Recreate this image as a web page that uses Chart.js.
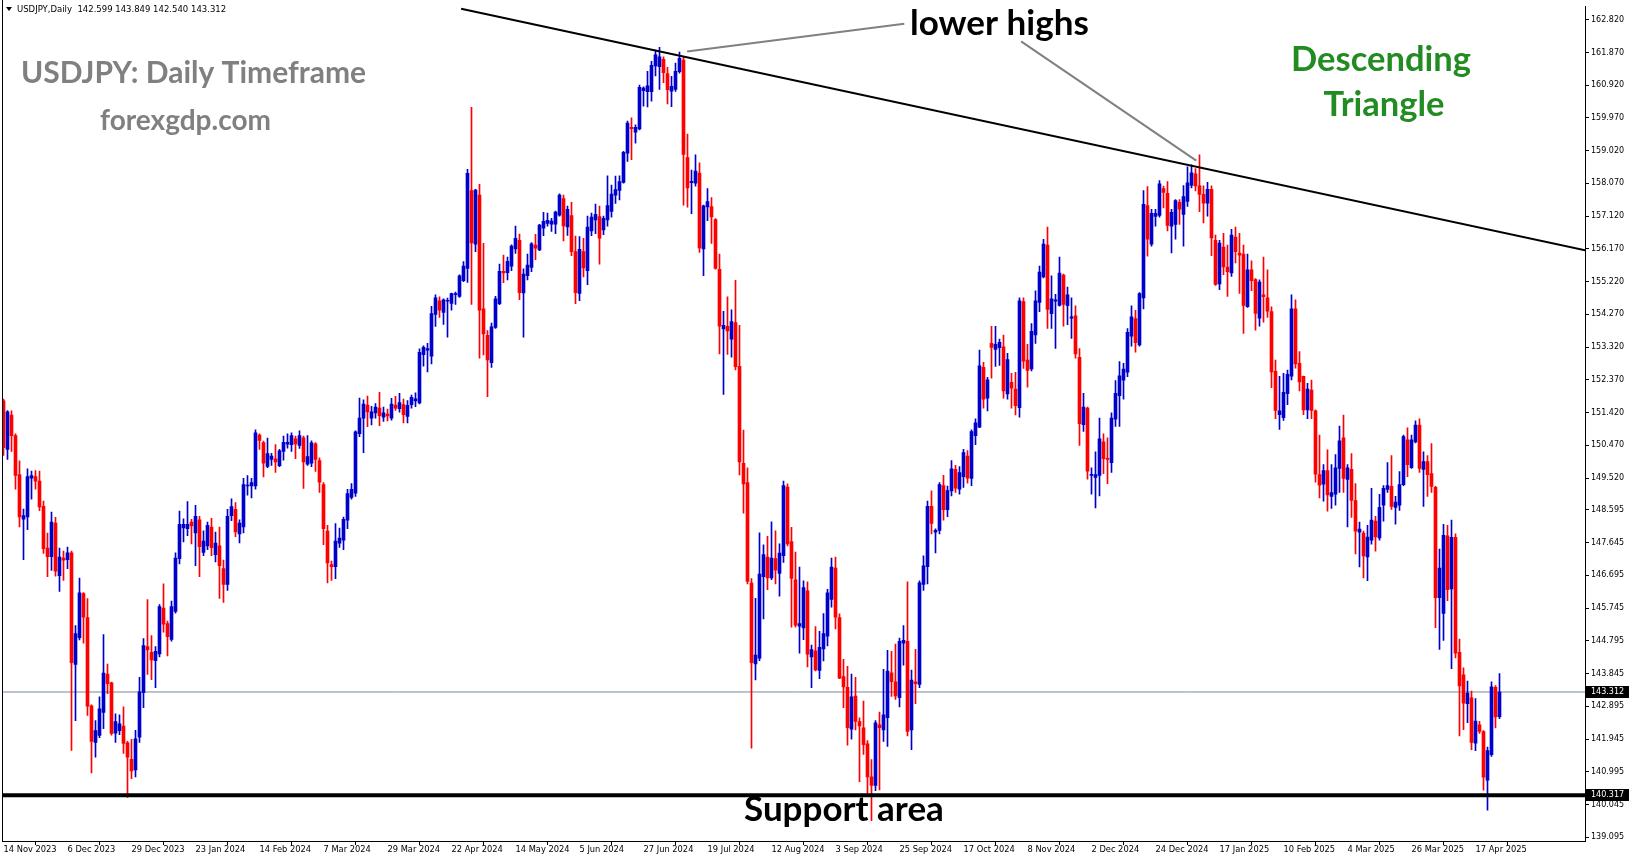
<!DOCTYPE html>
<html>
<head>
<meta charset="utf-8">
<title>USDJPY Daily</title>
<script src="https://cdn.jsdelivr.net/npm/chart.js@4.4.1/dist/chart.umd.min.js"></script>
<style>
  html, body { margin: 0; padding: 0; background: #fff; }
  #wrap { width: 1631px; height: 861px; }
</style>
</head>
<body>
<div id="wrap"><canvas id="chart" width="1631" height="861"></canvas></div>
<script>
// USDJPY daily candles (one entry per bar, 14 Nov 2023 .. 25 Apr 2025)
const opens = [
151.76,150.35,151.35,150.75,149.62,148.33,148.39,149.52,149.56,149.43,
148.70,147.49,147.24,148.21,146.69,147.20,147.15,147.35,144.11,144.89,
146.17,145.47,142.91,141.85,142.05,142.72,143.83,143.58,142.12,142.19,
142.32,141.84,141.36,141.05,142.00,143.29,144.63,144.46,144.22,144.42,
145.75,145.30,144.84,145.65,147.18,148.07,148.05,148.24,147.93,148.31,
147.36,147.55,148.10,147.30,147.55,146.89,146.43,148.43,148.61,147.90,
148.10,149.29,149.29,149.29,150.77,150.55,149.86,150.06,150.08,149.88,
150.29,150.50,150.49,150.66,150.47,150.69,149.92,149.95,150.51,150.03,
149.33,147.98,147.01,146.95,147.63,147.72,148.30,148.96,149.08,150.81,
151.26,151.64,151.26,151.41,151.55,151.29,151.38,151.26,151.64,151.53,
151.65,151.31,151.65,151.76,151.70,153.10,153.23,153.06,154.27,154.66,
154.33,154.65,154.59,154.84,154.79,155.25,155.60,157.86,156.31,157.73,
154.43,153.66,152.87,153.89,154.58,155.52,155.48,155.67,156.17,156.42,
154.89,155.39,155.63,156.28,156.14,156.77,156.91,156.89,156.89,157.15,
157.63,156.81,157.14,156.09,154.88,156.09,155.54,156.69,157.01,157.11,
156.72,157.01,157.26,157.73,157.87,158.10,158.95,159.70,159.56,159.65,
160.76,160.73,160.73,161.48,161.46,161.67,161.26,160.75,160.80,161.31,
161.65,158.82,158.09,158.08,158.37,156.17,157.39,157.40,157.02,155.58,
153.85,153.92,153.55,154.03,152.76,149.95,149.39,146.47,144.13,144.29,
146.66,147.23,146.62,147.18,146.75,147.27,149.26,147.68,146.57,145.22,
145.17,146.25,144.33,144.51,143.94,144.56,144.93,146.00,146.91,145.47,
143.76,143.45,142.23,143.19,142.45,142.27,141.81,140.85,140.60,142.36,
142.21,142.57,143.87,143.61,143.15,144.73,144.78,142.21,143.61,143.53,
146.43,146.95,148.70,147.95,148.00,149.30,148.60,149.15,149.77,149.20,
149.56,150.16,149.51,150.75,151.00,152.73,151.84,153.43,153.25,153.30,
153.33,151.96,152.30,152.10,151.56,154.64,152.94,152.69,153.67,154.62,
155.36,156.28,154.29,154.65,154.53,155.41,154.52,154.16,154.23,153.02,
151.07,151.55,149.60,149.54,149.60,150.57,150.09,149.97,151.23,151.91,
152.36,152.59,153.64,154.15,153.38,154.75,157.43,156.31,157.11,157.14,
157.92,157.78,156.83,156.88,157.52,157.17,157.55,158.01,158.35,158.00,
157.75,157.50,157.90,156.42,155.15,156.22,155.64,155.47,156.51,156.05,
156.02,154.49,155.56,155.28,154.16,154.84,154.75,154.35,152.62,151.36,
151.27,151.97,152.48,154.43,152.85,152.47,151.50,152.07,151.47,149.62,
149.34,149.74,148.99,149.05,149.80,150.69,149.48,149.77,148.87,147.95,
147.92,147.23,147.72,148.27,147.78,148.73,149.19,149.28,148.67,148.73,
149.33,150.63,149.82,150.57,151.06,149.77,150.00,149.65,149.25,146.05,
145.59,147.84,146.30,147.80,144.46,143.81,142.97,143.14,141.83,142.36,
142.16,140.75,141.49,143.45,142.599
];
const highs = [
151.81,151.48,151.47,150.80,150.02,148.62,149.79,149.72,149.74,149.72,
148.85,147.92,148.53,148.38,147.49,147.40,147.52,147.40,145.24,146.62,
146.20,146.02,142.94,142.48,143.17,144.98,144.12,143.60,142.68,142.65,
142.88,141.88,141.94,142.20,143.74,144.86,145.99,144.95,144.63,145.85,
146.45,145.37,145.95,147.35,148.56,148.34,148.84,148.32,148.73,148.41,
147.99,148.24,148.35,147.95,148.10,147.14,148.61,148.92,148.81,148.31,
149.51,149.59,149.51,150.92,150.80,150.59,150.68,150.24,150.49,150.35,
150.74,150.80,150.83,150.74,150.89,150.74,150.75,150.60,150.55,150.11,
149.39,148.15,147.11,148.20,148.07,148.39,149.19,149.36,150.89,151.84,
151.79,151.90,151.60,151.68,152.01,151.58,151.52,151.83,151.89,151.98,
151.81,151.77,151.93,151.99,153.27,153.36,153.43,154.50,154.84,154.78,
154.72,154.74,154.89,154.92,155.42,155.80,158.48,160.28,157.90,158.04,
156.33,153.80,154.02,154.79,155.73,155.99,155.93,156.29,156.83,156.60,
155.59,156.02,156.35,156.59,156.88,157.23,157.21,157.06,157.27,157.77,
157.73,157.41,157.52,156.54,156.53,156.48,157.12,157.21,157.47,157.41,
157.12,158.29,158.02,158.28,158.29,159.00,159.88,159.97,159.77,160.92,
160.87,161.32,161.61,161.94,162.02,161.74,161.44,161.18,161.56,161.88,
161.75,159.50,158.46,158.90,158.67,157.44,157.92,157.66,157.05,156.02,
154.36,154.78,154.40,155.26,153.95,150.91,149.82,146.60,146.03,147.93,
147.58,147.83,148.25,147.99,147.61,149.43,149.35,148.09,147.37,146.94,
146.54,146.51,144.67,145.21,145.07,145.59,146.29,147.20,147.23,145.58,
144.26,144.06,143.83,143.74,142.56,143.05,141.90,141.35,142.48,142.73,
143.97,144.52,144.49,144.70,144.88,145.24,146.51,143.95,144.55,146.54,
147.26,148.85,149.15,148.05,149.39,149.60,149.29,150.03,149.89,149.85,
150.35,150.32,150.92,151.24,153.23,152.88,152.44,153.92,153.92,153.55,
153.67,153.14,152.56,152.59,154.75,154.75,153.40,154.00,154.95,155.67,
156.45,156.80,155.39,154.85,155.93,155.44,155.06,154.75,154.52,153.28,
151.98,151.58,149.82,150.28,151.26,150.80,150.69,151.41,152.35,152.90,
152.85,153.86,154.52,154.39,154.90,157.86,157.98,157.32,157.32,158.15,
157.99,158.12,157.32,157.60,157.60,158.01,158.55,158.61,158.50,158.90,
158.00,158.10,158.00,156.57,156.42,156.62,156.28,156.74,156.80,156.62,
156.28,156.02,155.82,155.31,155.27,155.93,155.56,154.49,152.94,152.47,
152.56,152.65,154.84,154.69,153.19,152.48,152.27,152.36,151.50,150.77,
149.91,150.34,149.91,150.20,151.03,151.35,149.91,150.23,149.36,148.24,
147.98,148.15,149.22,148.41,149.05,149.30,149.97,150.17,148.99,149.71,
150.77,150.98,150.77,151.18,151.24,150.28,150.17,150.52,149.28,147.46,
148.18,148.15,148.30,147.90,144.85,144.01,143.63,143.34,143.12,142.46,
142.19,141.71,143.61,143.50,143.849
];
const lows = [
150.18,150.06,150.29,149.20,148.10,147.15,148.02,148.91,149.20,148.57,
147.33,146.66,146.84,146.67,146.23,146.55,146.89,141.62,142.48,144.82,
144.73,142.63,140.96,141.42,141.99,142.25,143.26,142.06,141.85,142.07,
141.53,140.25,140.80,140.85,141.85,142.86,143.82,143.67,143.44,144.33,
145.05,144.36,144.79,145.60,147.03,147.67,147.85,147.61,146.98,146.66,
147.27,147.44,147.27,147.09,146.03,145.91,146.26,148.28,147.82,147.64,
147.93,149.02,148.94,149.20,150.35,149.55,149.82,149.89,149.68,149.85,
150.04,150.39,150.29,150.08,150.38,149.22,149.89,149.85,149.71,149.10,
147.59,146.48,146.55,146.60,147.51,147.44,148.05,148.91,148.99,150.72,
150.26,151.01,151.06,151.26,151.04,151.16,151.18,151.20,151.48,151.43,
151.12,151.12,151.55,151.59,151.67,152.77,152.60,152.83,153.92,154.18,
153.98,153.61,154.39,154.56,154.76,155.22,155.20,154.56,156.09,153.00,
153.09,151.88,152.73,153.86,154.55,155.19,155.27,155.54,156.04,154.70,
153.61,155.27,155.51,155.86,156.12,156.55,156.83,156.68,156.61,157.12,
156.40,156.56,155.97,154.58,154.67,155.36,155.13,156.55,156.61,155.73,
156.58,156.83,157.09,157.49,157.59,158.08,158.71,158.76,159.24,159.62,
160.31,160.29,160.46,161.19,160.80,160.99,160.38,160.30,160.74,161.27,
157.44,157.38,157.19,157.99,156.07,155.39,156.99,156.33,155.58,153.12,
151.95,153.11,153.03,152.66,149.61,148.50,146.45,141.68,143.66,144.22,
145.43,146.28,146.57,146.45,146.09,147.07,147.55,145.19,145.19,144.44,
144.83,144.04,143.44,143.92,143.70,144.21,144.65,145.77,145.14,143.70,
142.86,141.77,141.94,142.21,140.71,141.50,140.30,139.58,140.45,140.47,
141.88,141.73,143.18,143.10,142.88,144.09,142.04,141.64,142.97,143.44,
146.26,146.45,147.90,147.35,147.90,148.30,148.40,149.00,149.10,149.05,
149.25,149.37,149.30,150.49,150.98,151.55,151.47,152.42,152.76,152.79,
151.84,151.81,151.55,151.35,151.29,152.70,152.16,152.63,153.43,154.35,
155.33,153.86,153.86,153.28,154.51,153.93,153.97,153.57,153.00,150.47,
150.87,149.49,149.05,148.65,149.00,149.65,149.36,149.68,151.02,151.02,
151.81,152.46,153.35,153.17,153.35,154.43,155.96,156.25,156.83,157.09,
157.36,156.69,156.05,156.45,156.88,156.25,157.40,157.94,157.85,157.25,
156.92,157.12,155.97,155.11,154.99,155.42,154.79,155.37,155.76,154.88,
153.72,154.47,154.96,153.81,153.93,154.04,154.18,152.14,151.24,150.93,
151.19,151.65,152.37,152.71,152.05,151.36,151.24,151.24,149.40,148.94,
148.85,148.56,148.64,148.73,149.10,149.10,148.10,148.38,147.32,146.94,
146.62,146.54,147.60,147.40,147.72,148.27,149.10,148.61,148.18,148.58,
149.30,149.56,149.80,150.54,149.68,148.70,148.99,149.10,145.18,144.55,
144.81,145.96,143.99,144.30,142.04,142.22,142.42,141.64,141.61,142.11,
140.46,139.88,141.44,142.27,142.540
];
const closes = [
150.40,151.44,150.75,149.60,148.39,148.43,149.56,149.59,149.43,148.68,
147.47,147.24,148.24,146.82,147.23,147.14,147.35,144.16,145.01,146.19,
145.48,142.90,141.88,142.19,142.82,143.86,143.55,142.11,142.45,142.39,
141.82,141.42,141.02,141.95,143.32,144.66,144.53,144.24,144.49,145.79,
145.28,144.92,145.79,147.20,148.18,148.18,148.18,148.13,148.41,147.53,
147.69,148.15,147.50,147.63,146.98,146.43,148.41,148.69,147.96,148.21,
149.33,149.31,149.39,150.83,150.61,149.95,150.23,150.16,149.99,150.31,
150.56,150.56,150.75,150.51,150.75,149.99,150.14,150.54,150.06,149.40,
148.05,147.06,146.95,147.69,147.78,148.32,149.07,149.19,150.86,151.26,
151.67,151.44,151.44,151.58,151.33,151.41,151.32,151.67,151.55,151.71,
151.36,151.63,151.86,151.82,153.17,153.31,153.28,154.29,154.75,154.39,
154.69,154.67,154.87,154.87,155.39,155.67,158.36,156.34,157.88,154.39,
153.70,152.95,153.91,154.72,155.52,155.47,155.81,156.25,156.48,154.90,
155.44,155.70,156.32,156.19,156.86,156.97,157.00,156.98,157.24,157.73,
156.84,157.32,156.09,154.90,156.16,155.62,156.80,157.09,157.17,156.48,
157.06,157.43,157.76,157.89,158.12,158.97,159.82,159.66,159.70,160.86,
160.84,160.90,161.50,161.80,161.74,161.28,160.79,160.89,161.32,161.70,
158.91,157.94,158.13,158.43,156.20,157.42,157.54,157.10,155.60,153.93,
153.95,153.79,154.06,152.75,149.99,149.35,146.52,144.16,144.38,146.73,
147.30,146.62,147.20,146.85,147.34,149.30,147.61,146.61,145.25,145.30,
146.34,144.41,144.54,143.95,144.61,145.01,146.19,146.94,145.48,143.71,
143.46,142.28,143.17,142.46,142.33,141.78,140.85,140.60,142.42,142.28,
142.65,143.92,143.61,143.20,144.78,144.81,142.17,143.66,143.55,146.48,
146.97,148.70,148.20,148.00,149.33,148.60,149.16,149.79,149.23,149.68,
150.26,149.52,150.87,151.12,152.78,151.81,152.37,153.31,153.40,153.46,
152.05,152.96,152.13,151.62,154.66,152.91,152.64,153.78,154.66,155.50,
156.31,154.41,154.72,154.69,155.47,154.56,154.84,154.20,153.12,151.10,
151.58,149.72,149.62,149.62,150.66,150.08,150.06,151.26,151.98,152.49,
152.68,153.75,154.20,153.45,154.87,157.46,156.45,157.20,157.20,158.06,
157.81,156.85,157.23,157.57,157.32,157.69,158.09,158.38,158.00,157.75,
157.50,157.90,156.49,155.14,156.34,155.65,155.51,156.57,156.09,155.99,
154.53,155.56,155.25,154.30,155.21,154.78,154.36,152.60,151.48,151.47,
152.01,152.53,154.43,152.83,152.31,151.50,152.10,151.48,149.63,149.31,
149.74,149.03,149.10,149.82,150.60,149.51,149.82,148.87,147.98,148.04,
147.26,147.81,148.30,147.81,148.67,149.22,149.30,148.70,148.82,149.33,
150.72,149.91,150.63,151.06,149.80,150.00,149.62,149.28,146.05,146.91,
147.86,146.28,147.80,144.44,143.49,142.99,143.28,141.85,142.47,142.17,
140.84,141.61,143.46,142.59,143.312
];

// bottom axis: one date every 16 bars, starting at bar 0
const dateLabels = ["14 Nov 2023","6 Dec 2023","29 Dec 2023","23 Jan 2024","14 Feb 2024","7 Mar 2024",
  "29 Mar 2024","22 Apr 2024","14 May 2024","5 Jun 2024","27 Jun 2024","19 Jul 2024","12 Aug 2024",
  "3 Sep 2024","25 Sep 2024","17 Oct 2024","8 Nov 2024","2 Dec 2024","24 Dec 2024","17 Jan 2025",
  "10 Feb 2025","4 Mar 2025","26 Mar 2025","17 Apr 2025"];
const labelStep = 16;

// right axis prices
const priceTicks = [162.820,161.870,160.920,159.970,159.020,158.070,157.120,156.170,155.220,154.270,
  153.320,152.370,151.420,150.470,149.520,148.595,147.645,146.695,145.745,144.795,143.845,142.895,
  141.945,140.995,140.045,139.095];

const lastPrice = 143.312;
const supportLevel = 140.317;
const headerText = "USDJPY,Daily  142.599 143.849 142.540 143.312";

// drawn objects, as (bar index, price)
const trendLine = [{x: 114.4, y: 163.14}, {x: 395.4, y: 156.13}];
const pointerA = [{x: 170.9, y: 161.90}, {x: 225.2, y: 162.70}];
const pointerB = [{x: 254.4, y: 162.19}, {x: 298.2, y: 158.73}];

const BLUE = '#0000CC', RED = '#FF0000';
const candleColors = closes.map((c, i) => c >= opens[i] ? BLUE : RED);
const wickData = highs.map((h, i) => ({x: i, y: [lows[i], h]}));
const bodyData = opens.map((o, i) => ({x: i, y: [o, closes[i]]}));
const spanX = [-0.375, 395.375];

const axisFont = {family: 'DejaVu Sans', size: 8};

const overlay = {
  id: 'overlay',
  afterDatasetsDraw(chart) {
    const {ctx, chartArea: a} = chart;
    ctx.save();
    // left frame
    ctx.strokeStyle = '#000';
    ctx.lineWidth = 1;
    ctx.beginPath();
    ctx.moveTo(a.left + 0.5, 0);
    ctx.lineTo(a.left + 0.5, a.bottom);
    ctx.stroke();

    // header
    ctx.fillStyle = '#000';
    ctx.beginPath();
    ctx.moveTo(6, 7); ctx.lineTo(12, 7); ctx.lineTo(9, 11); ctx.closePath();
    ctx.fill();
    ctx.font = '8.5px "DejaVu Sans"';
    ctx.textBaseline = 'middle';
    ctx.textAlign = 'left';
    ctx.fillText(headerText, 17, 10);

    ctx.textBaseline = 'alphabetic';
    ctx.fillStyle = '#808080';
    ctx.font = 'bold 30px Lato';
    ctx.fillText('USDJPY: Daily Timeframe', 21, 83);
    ctx.font = 'bold 28px Lato';
    ctx.fillText('forexgdp.com', 100, 130);

    ctx.fillStyle = '#000';
    ctx.font = 'bold 35px Lato';
    ctx.fillText('lower highs', 910, 35);
    ctx.fillText('Support area', 744, 821);

    ctx.fillStyle = '#228B22';
    ctx.font = 'bold 34.5px Lato';
    ctx.textAlign = 'center';
    ctx.fillText('Descending', 1381, 71);
    ctx.fillText('Triangle', 1384, 116);
    ctx.restore();
  },
  afterDraw(chart) {
    const {ctx, chartArea: a, scales: {y}} = chart;
    ctx.save();
    ctx.font = '8px "DejaVu Sans"';
    ctx.textBaseline = 'middle';
    ctx.textAlign = 'left';
    [lastPrice, supportLevel].forEach(v => {
      const py = Math.round(y.getPixelForValue(v));
      ctx.fillStyle = '#000';
      ctx.fillRect(a.right + 1, py - 6, 43, 12);
      ctx.fillStyle = '#fff';
      ctx.fillText(v.toFixed(3), a.right + 6, py);
    });
    ctx.restore();
  }
};

new Chart(document.getElementById('chart'), {
  type: 'bar',
  data: {
    datasets: [
      {type: 'line', data: [{x: spanX[0], y: lastPrice}, {x: spanX[1], y: lastPrice}],
       borderColor: '#778899', borderWidth: 1, pointRadius: 0, order: 10},
      {data: wickData, backgroundColor: candleColors, barThickness: 1, grouped: false, order: 6},
      {data: bodyData, backgroundColor: candleColors, barThickness: 3, minBarLength: 1, grouped: false, order: 5},
      {type: 'line', data: [{x: spanX[0], y: supportLevel}, {x: spanX[1], y: supportLevel}],
       borderColor: '#000', borderWidth: 4, pointRadius: 0, order: 2},
      {type: 'line', data: trendLine, borderColor: '#000', borderWidth: 2, pointRadius: 0, order: 1},
      {type: 'line', data: pointerA, borderColor: '#808080', borderWidth: 2, pointRadius: 0, order: 1},
      {type: 'line', data: pointerB, borderColor: '#808080', borderWidth: 2, pointRadius: 0, order: 1}
    ]
  },
  options: {
    responsive: false,
    animation: false,
    devicePixelRatio: 1,
    layout: {padding: {left: 2, top: 1, right: 0, bottom: 0}},
    plugins: {legend: {display: false}, tooltip: {enabled: false}},
    scales: {
      x: {
        type: 'linear',
        min: spanX[0],
        max: spanX[1],
        offset: false,
        grid: {display: true, drawOnChartArea: false, drawTicks: true, tickLength: 4, color: '#000'},
        border: {display: true, color: '#000'},
        afterBuildTicks: s => { s.ticks = dateLabels.map((_, i) => ({value: i * labelStep})); },
        afterFit: s => { s.height = 20; },
        ticks: {
          autoSkip: false, maxRotation: 0, align: 'start', padding: 0, color: '#000',
          font: {family: 'DejaVu Sans', size: 8.3},
          callback: v => dateLabels[Math.round(v / labelStep)]
        }
      },
      y: {
        type: 'linear',
        position: 'right',
        min: 138.988,
        max: 163.195,
        grid: {display: true, drawOnChartArea: false, drawTicks: true, tickLength: 4, color: '#000'},
        border: {display: true, color: '#000'},
        afterBuildTicks: s => { s.ticks = priceTicks.map(v => ({value: v})); },
        afterFit: s => { s.width = 46; },
        ticks: {padding: 2, color: '#000', font: axisFont, callback: v => v.toFixed(3)}
      }
    }
  },
  plugins: [overlay]
});
</script>
</body>
</html>
